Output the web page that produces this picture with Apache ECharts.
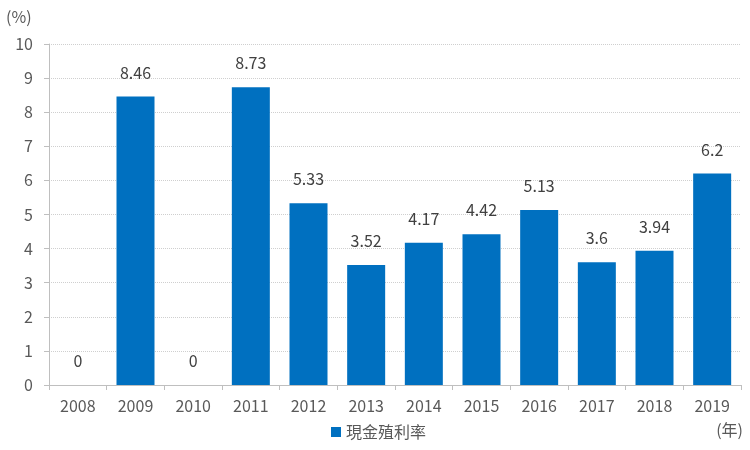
<!DOCTYPE html>
<html><head><meta charset="utf-8">
<script src="https://cdn.jsdelivr.net/npm/echarts@6/dist/echarts.min.js"></script>
<style>html,body{margin:0;padding:0;background:#fff}#c{width:750px;height:450px}</style>
</head><body><div id="c"></div>
<script>
const categories = ['2008','2009','2010','2011','2012','2013','2014','2015','2016','2017','2018','2019'];
const values = [0, 8.46, 0, 8.73, 5.33, 3.52, 4.17, 4.42, 5.13, 3.6, 3.94, 6.2];
const seriesName = '現金殖利率';
const FONT = '"Noto Sans CJK TC","Noto Sans",sans-serif';
const chart = echarts.init(document.getElementById('c'));
chart.setOption({
  animation: false,
  textStyle: {fontFamily: FONT},
  grid: {left: 49, right: 9, top: 44, bottom: 65},
  legend: {
    bottom: 5, left: 326, itemWidth: 10, itemHeight: 10, icon: 'rect', itemGap: 6,
    textStyle: {fontSize: 16, color: '#595959', fontFamily: FONT},
    data: [seriesName]
  },
  xAxis: {
    type: 'category', data: categories,
    axisLine: {lineStyle: {color: '#BFBFBF', width: 1}},
    axisTick: {show: true, length: 5, lineStyle: {color: '#BFBFBF'}},
    axisLabel: {color: '#595959', fontSize: 16, margin: 13, fontFamily: FONT}
  },
  yAxis: {
    type: 'value', min: 0, max: 10, interval: 1,
    axisLine: {show: true, lineStyle: {color: '#BFBFBF'}},
    axisTick: {show: true, length: 5, lineStyle: {color: '#BFBFBF'}},
    splitLine: {lineStyle: {color: '#CFCFCF', type: 'dotted'}},
    axisLabel: {color: '#595959', fontSize: 16, margin: 16, fontFamily: FONT}
  },
  graphic: [
    {type: 'text', left: 6, top: 9, style: {text: '(%)', fill: '#595959', font: '16px ' + FONT}},
    {type: 'text', right: 7, top: 422, style: {text: '(年)', fill: '#595959', font: '16px ' + FONT}}
  ],
  series: [{
    name: seriesName, type: 'bar', data: values, barWidth: 38,
    itemStyle: {color: '#0070C0'},
    label: {show: true, position: 'top', distance: 16, color: '#404040', fontSize: 16, fontWeight: 'normal', fontFamily: FONT}
  }]
});
</script></body></html>
